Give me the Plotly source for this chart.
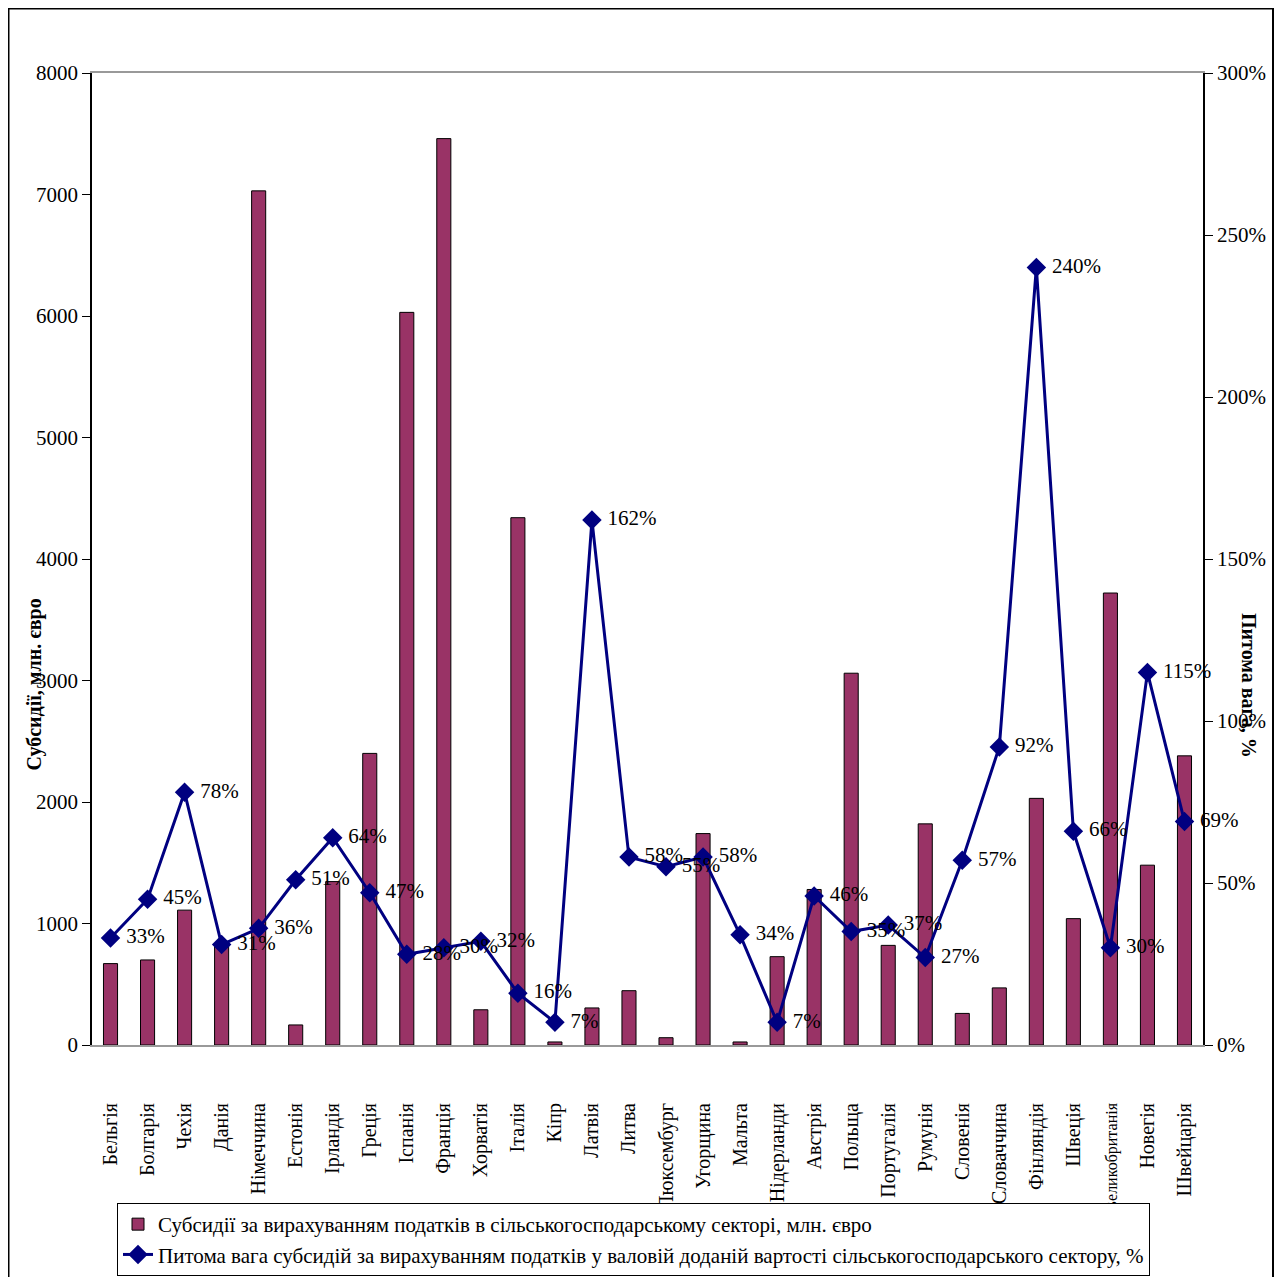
import plotly.graph_objects as go

countries = ["Бельгія", "Болгарія", "Чехія", "Данія", "Німеччина", "Естонія", "Ірландія",
             "Греція", "Іспанія", "Франція", "Хорватія", "Італія", "Кіпр", "Латвія", "Литва",
             "Люксембург", "Угорщина", "Мальта", "Нідерланди", "Австрія", "Польща",
             "Португалія", "Румунія", "Словенія", "Словаччина", "Фінляндія", "Швеція",
             "Великобританія", "Новегія", "Швейцарія"]
subsidies = [670, 700, 1110, 815, 7030, 165, 1345, 2400, 6030, 7460, 290, 4340, 25, 305, 447,
             60, 1740, 25, 727, 1280, 3060, 820, 1820, 260, 470, 2030, 1040, 3720, 1480, 2380]
share_pct = [33, 45, 78, 31, 36, 51, 64, 47, 28, 30, 32, 16, 7, 162, 58, 55, 58, 34, 7, 46,
             35, 37, 27, 57, 92, 240, 66, 30, 115, 69]
small_label_countries = ["Великобританія"]

OFF = 8  # page body margin
W, H = 1282 - 2 * OFF, 1285 - 2 * OFF
L, T = 92 - OFF, 73 - OFF
R = W - (1203 - OFF)
B = H - (1045 - OFF)
pw, ph = W - L - R, H - T - B

font = "Liberation Serif, Times New Roman, serif"


def px_x(x):
    return (x - OFF - L) / pw


def px_y(y):
    return (H - B - (y - OFF)) / ph


ticktext = ['<span style="font-size:16px">%s</span>' % c if c in small_label_countries else c
            for c in countries]

fig = go.Figure()
fig.add_trace(go.Bar(
    x=countries, y=subsidies,
    name="Субсидії за вирахуванням податків в сільськогосподарському секторі, млн. євро",
    marker=dict(color="#993366", line=dict(color="#000000", width=1)),
))
fig.add_trace(go.Scatter(
    x=countries, y=share_pct, yaxis="y2", mode="lines+markers+text",
    name="Питома вага субсидій за вирахуванням податків у валовій доданій вартості сільськогосподарського сектору, %",
    line=dict(color="#000080", width=3),
    marker=dict(symbol="diamond", size=15, color="#000080"),
    text=[" %d%%" % v for v in share_pct], textposition="middle right",
    textfont=dict(family=font, size=21, color="#000000"),
    cliponaxis=False,
))

fig.update_layout(
    width=W, height=H,
    margin=dict(l=L, r=R, t=T, b=B, autoexpand=False),
    paper_bgcolor="white", plot_bgcolor="white",
    font=dict(family=font, size=21, color="#000000"),
    bargap=0.62,
    showlegend=True,
    legend=dict(
        x=px_x(117), y=px_y(1203), xanchor="left", yanchor="top",
        bordercolor="#000000", borderwidth=1, bgcolor="white",
        font=dict(family=font, size=21), tracegroupgap=0, itemwidth=30,
    ),
    xaxis=dict(
        type="category", range=[-0.5, len(countries) - 0.5], tickangle=-90,
        tickmode="array", tickvals=countries, ticktext=ticktext, automargin=False,
        showline=True, linecolor="#999999", linewidth=2, mirror=True,
        ticks="", ticklabelstandoff=48, tickfont=dict(family=font, size=20),
        showgrid=False, zeroline=False,
    ),
    yaxis=dict(
        range=[0, 8000], dtick=1000, showline=True, linecolor="#000000", linewidth=1.5,
        ticks="outside", ticklen=8, tickcolor="#000000", showgrid=False, zeroline=False,
        tickfont=dict(family=font, size=21), automargin=False,
    ),
    yaxis2=dict(
        range=[0, 300], dtick=50, ticksuffix="%", overlaying="y", side="right",
        showline=True, linecolor="#000000", linewidth=1.5, ticks="outside", ticklen=8,
        tickcolor="#000000", showgrid=False, zeroline=False,
        tickfont=dict(family=font, size=21), automargin=False,
    ),
    annotations=[
        dict(text="<b>Субсидії, млн. євро</b>", textangle=-90, xref="paper", yref="paper",
             x=px_x(20), y=px_y(685), showarrow=False, font=dict(family=font, size=20)),
        dict(text="<b>Питома вага, %</b>", textangle=90, xref="paper", yref="paper",
             x=px_x(1262), y=px_y(685), showarrow=False, font=dict(family=font, size=20)),
    ],
    shapes=[
        dict(type="rect", xref="paper", yref="paper", x0=px_x(8.5), x1=px_x(1273),
             y0=px_y(1300), y1=px_y(8.5), line=dict(color="#000000", width=2),
             fillcolor="rgba(0,0,0,0)", layer="below"),
    ],
)

fig.write_html("out.html")
